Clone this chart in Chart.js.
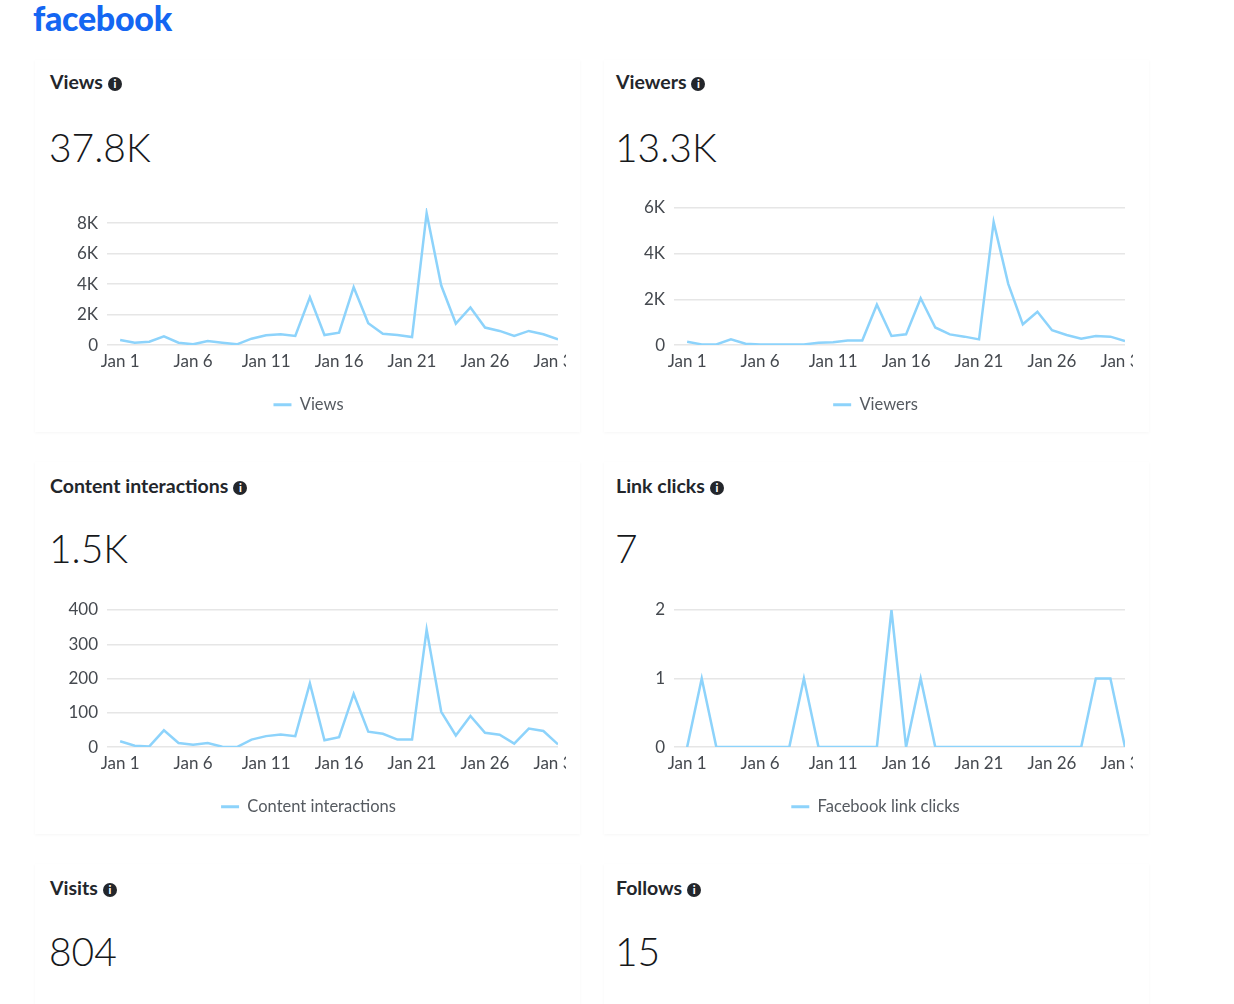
<!DOCTYPE html>
<html>
<head>
<meta charset="utf-8">
<script src="https://cdn.jsdelivr.net/npm/chart.js@4.4.0/dist/chart.umd.min.js"></script>
<style>
  body { margin:0; width:1234px; height:1004px; background:#fff; position:relative; overflow:hidden; font-family:Lato, sans-serif; color:#1c1e21; }
  .logo { position:absolute; left:33px; top:-3px; font-family:Lato; font-weight:900; font-size:34px; color:#1466f2; letter-spacing:-0.3px; }
  .card { position:absolute; width:545px; height:372px; box-shadow:0 1px 3px rgba(0,0,0,0.04); }
  .title { position:absolute; font-weight:700; font-size:19.5px; line-height:22px; white-space:nowrap; color:#23262b; }
  .info { display:inline-block; width:14px; height:14px; border-radius:50%; background:#23262b; color:#fff; font-size:11px; line-height:14px; text-align:center; font-weight:900; vertical-align:1px; margin-left:5px; }
  .num { position:absolute; font-size:39px; font-weight:300; line-height:48px; color:#16181b; }
  .wrap { position:absolute; overflow:hidden; width:531px; height:232px; }
</style>
</head>
<body>
<div class="logo">facebook</div>

<div class="card" style="left:35px;top:60px"></div>
<div class="card" style="left:604px;top:60px"></div>
<div class="card" style="left:35px;top:462px"></div>
<div class="card" style="left:604px;top:462px"></div>
<div class="card" style="left:35px;top:864px"></div>
<div class="card" style="left:604px;top:864px"></div>

<div class="title" style="left:50px;top:71px">Views<span class="info">i</span></div>
<div class="num" style="left:49px;top:123px">37.8K</div>
<div class="title" style="left:616px;top:71px">Viewers<span class="info">i</span></div>
<div class="num" style="left:615px;top:123px">13.3K</div>

<div class="title" style="left:50px;top:475px">Content interactions<span class="info">i</span></div>
<div class="num" style="left:49px;top:524px">1.5K</div>
<div class="title" style="left:616px;top:475px">Link clicks<span class="info">i</span></div>
<div class="num" style="left:615px;top:524px">7</div>

<div class="title" style="left:50px;top:877px">Visits<span class="info">i</span></div>
<div class="num" style="left:49px;top:927px">804</div>
<div class="title" style="left:616px;top:877px">Follows<span class="info">i</span></div>
<div class="num" style="left:615px;top:927px">15</div>

<div class="wrap" style="left:35px;top:198px"><canvas id="c1" width="547" height="232"></canvas></div>
<div class="wrap" style="left:602px;top:198px"><canvas id="c2" width="547" height="232"></canvas></div>
<div class="wrap" style="left:35px;top:600px"><canvas id="c3" width="547" height="232"></canvas></div>
<div class="wrap" style="left:602px;top:600px"><canvas id="c4" width="547" height="232"></canvas></div>

<script>
// days of the month on the x axis
const days = ['Jan 1','Jan 2','Jan 3','Jan 4','Jan 5','Jan 6','Jan 7','Jan 8','Jan 9','Jan 10',
  'Jan 11','Jan 12','Jan 13','Jan 14','Jan 15','Jan 16','Jan 17','Jan 18','Jan 19','Jan 20',
  'Jan 21','Jan 22','Jan 23','Jan 24','Jan 25','Jan 26','Jan 27','Jan 28','Jan 29','Jan 30','Jan 31'];
const xTickIdx = [0, 5, 10, 15, 20, 25, 30];

const views = [330, 150, 220, 575, 155, 50, 265, 155, 50, 420,
  640, 710, 600, 3140, 660, 820, 3800, 1440, 750, 660,
  530, 8660, 3910, 1415, 2475, 1150, 930, 600, 930, 710, 375];
const viewers = [150, 30, 30, 250, 60, 30, 30, 30, 30, 100,
  130, 200, 200, 1770, 400, 470, 2050, 770, 470, 370,
  250, 5380, 2680, 910, 1460, 650, 440, 280, 400, 370, 180];
const contentInteractions = [17, 4, 2, 49, 12, 7, 12, 1, 0, 22,
  32, 37, 32, 186, 20, 29, 155, 45, 39, 22,
  22, 343, 103, 34, 91, 42, 36, 10, 54, 47, 8];
const linkClicks = [0, 1, 0, 0, 0, 0, 0, 0, 1, 0,
  0, 0, 0, 0, 2, 0, 1, 0, 0, 0,
  0, 0, 0, 0, 0, 0, 0, 0, 1, 1, 0];

const viewsTicks = [0, 2000, 4000, 6000, 8000];
const viewsTickLabels = ['0', '2K', '4K', '6K', '8K'];
const viewersTicks = [0, 2000, 4000, 6000];
const viewersTickLabels = ['0', '2K', '4K', '6K'];
const interactionTicks = [0, 100, 200, 300, 400];
const interactionTickLabels = ['0', '100', '200', '300', '400'];
const clickTicks = [0, 1, 2];
const clickTickLabels = ['0', '1', '2'];

const lineColor = '#8dd3fb';
Chart.defaults.font.family = 'Lato';
Chart.defaults.font.size = 17;
Chart.defaults.color = '#45494f';

function makeChart(id, label, values, yMax, yTicks, yLabels) {
  new Chart(document.getElementById(id), {
    type: 'line',
    data: {
      datasets: [{
        label: label,
        data: values.map((v, i) => ({ x: i, y: v })),
        borderColor: lineColor,
        backgroundColor: lineColor,
        borderWidth: 2.5,
        pointRadius: 0,
        tension: 0
      }]
    },
    options: {
      responsive: false,
      animation: false,
      layout: { padding: { top: 10, bottom: 7, left: 0, right: 0 } },
      scales: {
        x: {
          type: 'linear',
          min: -0.9,
          max: 30,
          grid: { display: false, drawTicks: false },
          border: { display: false },
          afterBuildTicks: s => { s.ticks = xTickIdx.map(v => ({ value: v })); },
          afterFit: s => { s.paddingLeft = 0; s.paddingRight = 24; },
          ticks: { autoSkip: false, maxRotation: 0, padding: 6, callback: v => days[v] }
        },
        y: {
          min: 0,
          max: yMax,
          grid: { color: '#e6e6e6', lineWidth: 1.5, drawTicks: false },
          border: { display: false },
          afterBuildTicks: s => { s.ticks = yTicks.map(v => ({ value: v })); },
          afterFit: s => { s.width = 72; s.paddingTop = 0; s.paddingBottom = 0; },
          ticks: { padding: 9, callback: v => yLabels[yTicks.indexOf(v)] }
        }
      },
      plugins: {
        tooltip: { enabled: false },
        legend: {
          position: 'bottom',
          labels: {
            boxWidth: 18,
            boxHeight: 3,
            padding: 19,
            color: '#555a60',
            font: { size: 16.5 },
            generateLabels: c => c.data.datasets.map((d, i) => ({
              text: d.label, fillStyle: lineColor, strokeStyle: lineColor,
              lineWidth: 0, hidden: false, datasetIndex: i, fontColor: '#555a60'
            }))
          }
        }
      }
    }
  });
}

makeChart('c1', 'Views', views, 9000, viewsTicks, viewsTickLabels);
makeChart('c2', 'Viewers', viewers, 6000, viewersTicks, viewersTickLabels);
makeChart('c3', 'Content interactions', contentInteractions, 400, interactionTicks, interactionTickLabels);
makeChart('c4', 'Facebook link clicks', linkClicks, 2, clickTicks, clickTickLabels);
</script>
</body>
</html>
